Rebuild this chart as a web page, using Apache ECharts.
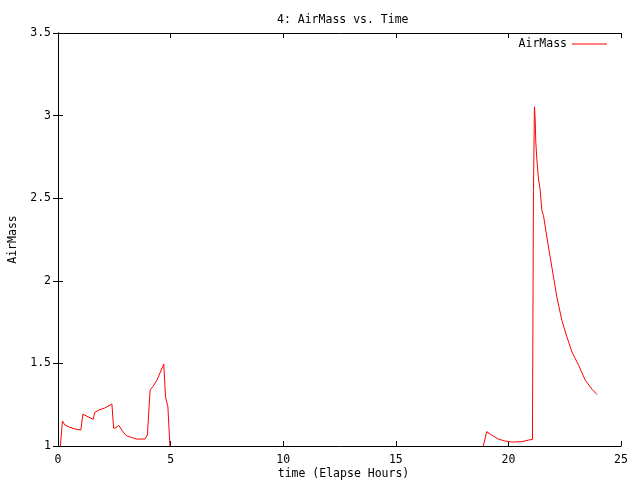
<!DOCTYPE html>
<html>
<head>
<meta charset="utf-8">
<script src="https://cdn.jsdelivr.net/npm/echarts@6/dist/echarts.min.js"></script>
<style>html,body{margin:0;padding:0;background:#fff}#c{width:640px;height:480px}</style>
</head>
<body>
<div id="c"></div>
<script>
var hours = [0.106, 0.197, 0.303, 0.53, 0.758, 1.015, 1.106, 1.333, 1.561, 1.636, 1.818, 2.045, 2.394, 2.47, 2.576, 2.697, 2.773, 2.879, 3.03, 3.258, 3.485, 3.864, 3.97, 4.09, 4.21, 4.394, 4.697, 4.773, 4.848, 4.879, 4.97,
  null,
  18.887, 18.96, 19.036, 19.258, 19.555, 19.852, 20.148, 20.593, 20.89, 21.068, 21.083, 21.113, 21.157, 21.187, 21.217, 21.261, 21.335, 21.41, 21.484, 21.558, 21.706, 21.855, 22.003, 22.151, 22.374, 22.596, 22.819, 23.116, 23.412, 23.709, 23.932];
var airMass = [1.0, 1.151, 1.127, 1.113, 1.103, 1.097, 1.192, 1.177, 1.161, 1.204, 1.218, 1.228, 1.254, 1.107, 1.111, 1.125, 1.113, 1.087, 1.063, 1.052, 1.042, 1.042, 1.067, 1.339, 1.359, 1.399, 1.496, 1.298, 1.298, 1.238, 1.0,
  null,
  1.0, 1.012, 1.087, 1.066, 1.042, 1.030, 1.024, 1.026, 1.036, 1.040, 1.544, 2.547, 3.054, 2.98, 2.839, 2.738, 2.617, 2.551, 2.426, 2.396, 2.265, 2.144, 2.023, 1.902, 1.761, 1.661, 1.570, 1.489, 1.399, 1.344, 1.312];
var titleText = "4: AirMass vs. Time";
var xName = "time (Elapse Hours)";
var yName = "AirMass";
var seriesName = "AirMass";

var data = hours.map(function (h, i) { return h === null ? [null, null] : [h, airMass[i]]; });
var FONT = "DejaVu Sans Mono";
var FS = 11.5;
var chart = echarts.init(document.getElementById('c'), null, {renderer: 'canvas'});
var axisCommon = {
  axisLine: {show: true, lineStyle: {color: '#000', width: 1}},
  axisTick: {show: true, inside: true, length: 5, lineStyle: {color: '#000'}},
  splitLine: {show: false}
};
chart.setOption({
  animation: false,
  backgroundColor: '#fff',
  title: {text: titleText, left: 272, top: 9, textStyle: {fontFamily: FONT, fontSize: FS, fontWeight: 'normal', color: '#000'}},
  legend: {
    right: 28, top: 33, align: 'right', icon: 'rect', itemWidth: 35, itemHeight: 1.2,
    textStyle: {fontFamily: FONT, fontSize: FS, color: '#000', padding: [0, 0, 0, 0]},
    data: [seriesName]
  },
  grid: {left: 58, right: 19, top: 33, bottom: 34, containLabel: false, outerBoundsMode: 'none'},
  xAxis: [
    Object.assign({type: 'value', min: 0, max: 25, interval: 5, position: 'bottom',
      name: xName, nameLocation: 'middle', nameGap: 22, nameMoveOverlap: false,
      nameTextStyle: {fontFamily: FONT, fontSize: FS, color: '#000', padding: [0, 0, 0, 8]},
      axisLabel: {fontFamily: FONT, fontSize: FS, color: '#000', margin: 8}}, axisCommon),
    Object.assign({type: 'value', min: 0, max: 25, interval: 5, position: 'top', axisLabel: {show: false}}, axisCommon)
  ],
  yAxis: [
    Object.assign({type: 'value', min: 1, max: 3.5, interval: 0.5, position: 'left',
      name: yName, nameLocation: 'middle', nameGap: 39, nameRotate: 90, nameMoveOverlap: false,
      nameTextStyle: {fontFamily: FONT, fontSize: FS, color: '#000'},
      axisLabel: {fontFamily: FONT, fontSize: FS, color: '#000', margin: 7}}, axisCommon),
    Object.assign({type: 'value', min: 1, max: 3.5, interval: 0.5, position: 'right', axisLabel: {show: false}}, axisCommon)
  ],
  series: [{
    name: seriesName, type: 'line', data: data, showSymbol: false, symbol: 'none',
    connectNulls: false, clip: true,
    lineStyle: {color: '#ff0000', width: 1}, itemStyle: {color: '#ff0000'}
  }]
});
</script>
</body>
</html>
